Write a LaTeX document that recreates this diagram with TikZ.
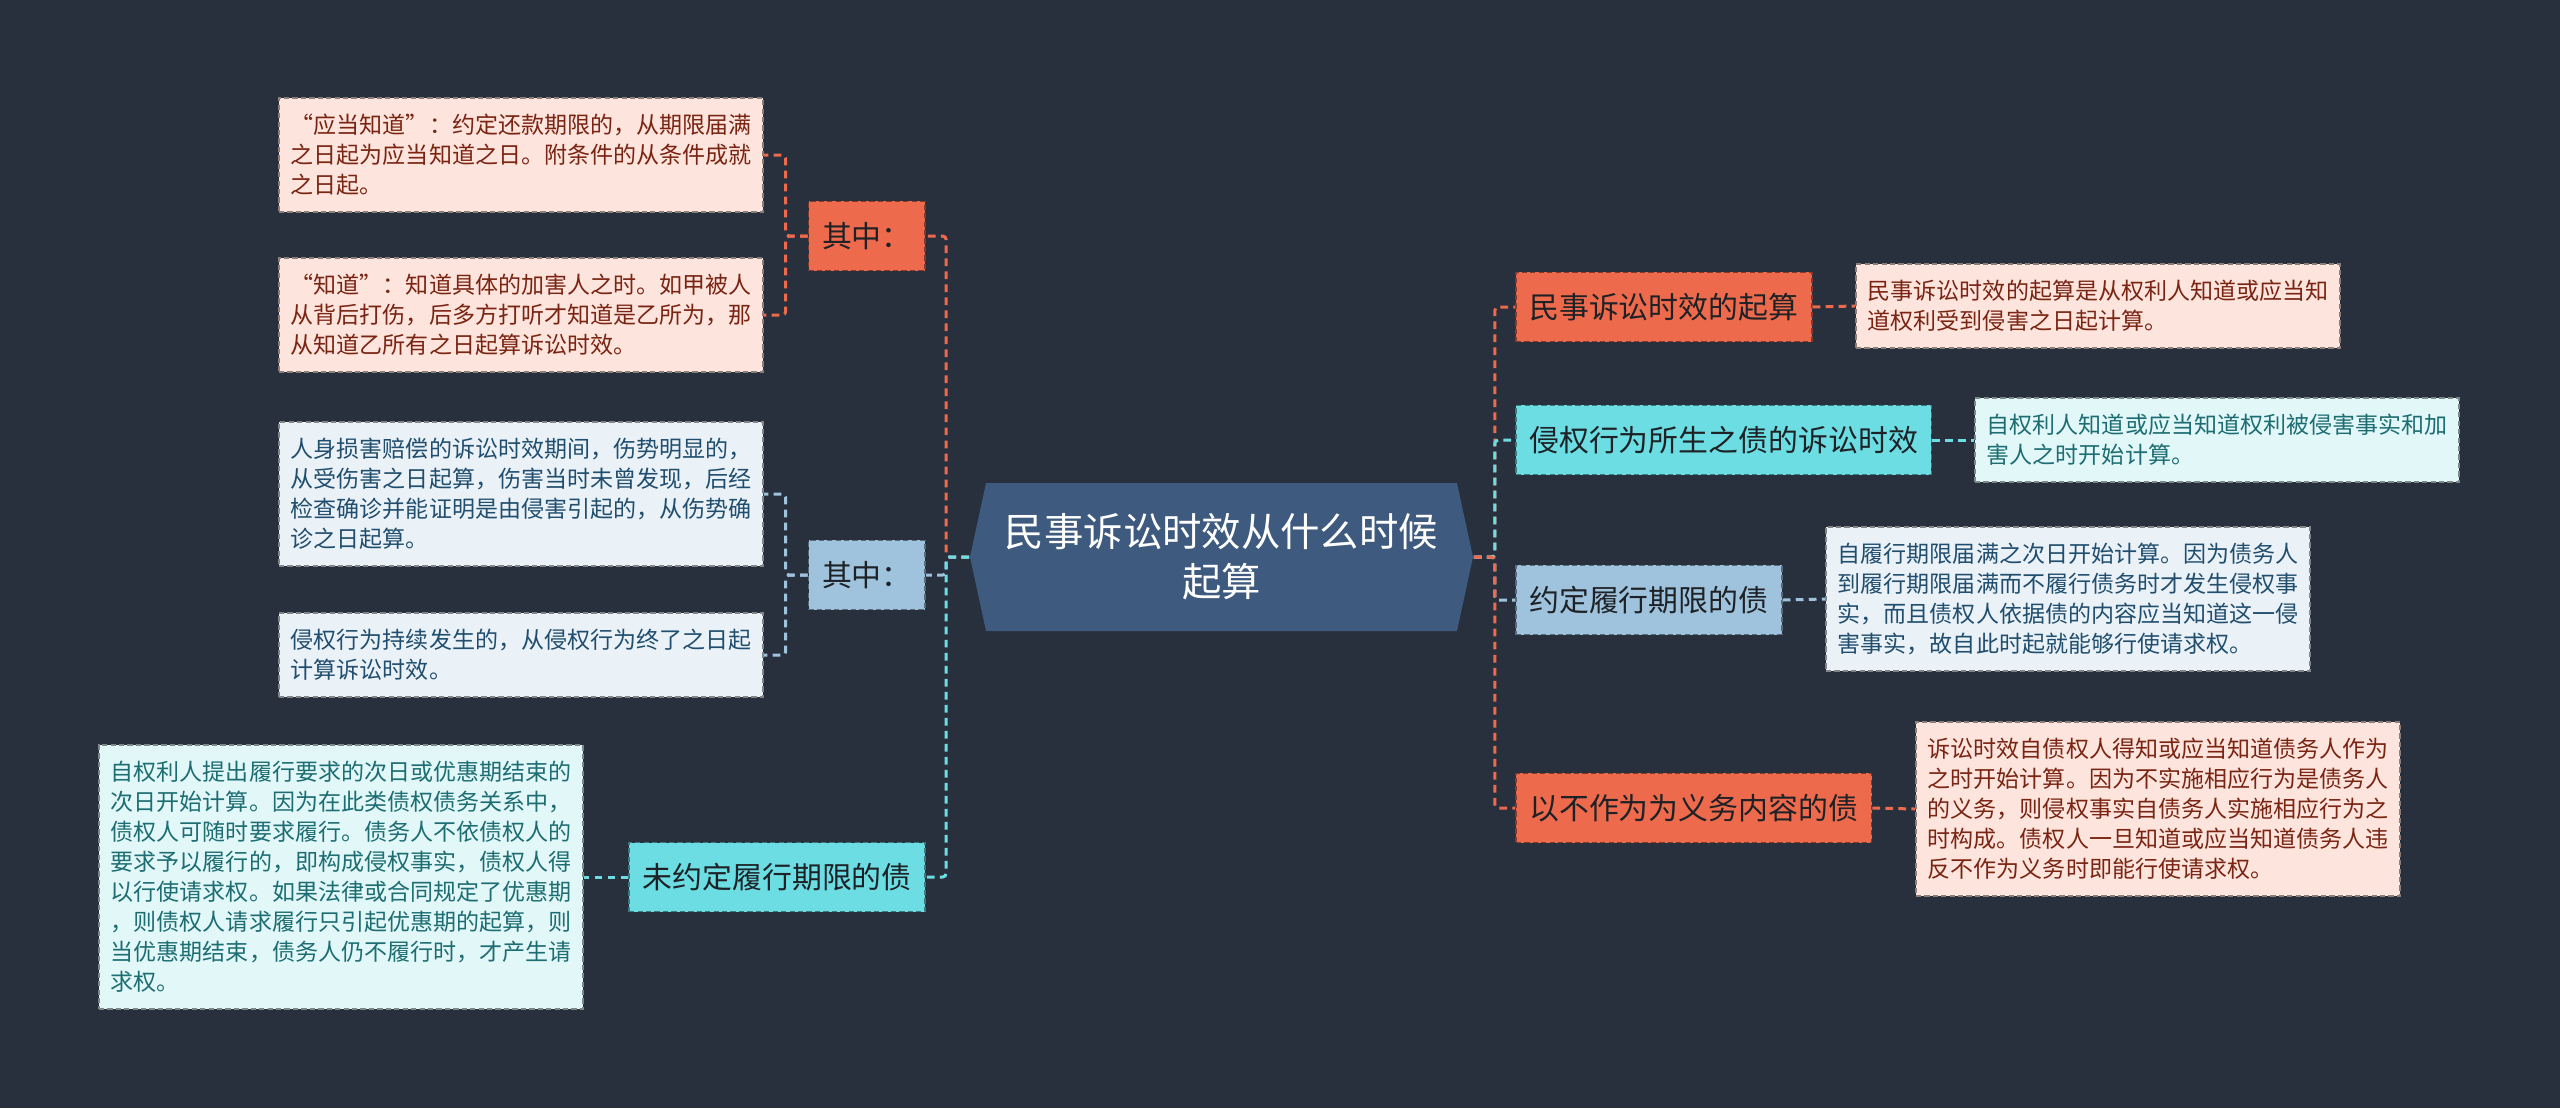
\documentclass[tikz,border=0pt]{standalone}
\usepackage{fontspec}
\setmainfont{Noto Sans CJK SC}
\usepackage{tikz}
\usetikzlibrary{positioning}
\usepackage{xcolor}

\definecolor{bgdark}{HTML}{28303E}
\definecolor{ctrfill}{HTML}{3E5A7E}
\definecolor{orangefill}{HTML}{EE6A4C}
\definecolor{cyanfill}{HTML}{6BDDE3}
\definecolor{bluefill}{HTML}{9FC3DD}
\definecolor{pinkbox}{HTML}{FDE4DC}
\definecolor{cyanbox}{HTML}{E1F7F8}
\definecolor{bluebox}{HTML}{EAF2F8}
\definecolor{pinktext}{HTML}{7A2413}
\definecolor{cyantext}{HTML}{1D6D72}
\definecolor{bluetext}{HTML}{214E6E}
\definecolor{darktext}{HTML}{1E2226}

\begin{document}
\begin{tikzpicture}[x=0.01cm, y=-0.01cm,
    branch/.style={draw=#1!55!black, line width=0.45pt, dash pattern=on 1.5pt off 0.9pt, fill=#1,
        text=darktext, minimum height=0.69cm, inner xsep=0.135cm, inner ysep=0pt,
        font=\fontsize{8.5pt}{10pt}\selectfont},
    detail/.style 2 args={draw=#1!55!black, line width=0.45pt, dash pattern=on 1.5pt off 0.9pt, fill=#1,
        text=#2, text width=4.6cm, align=left, inner xsep=0.12cm, inner ysep=0.16cm,
        font=\fontsize{6.55pt}{8.55pt}\selectfont},
    conn/.style={#1, line width=0.85pt, dash pattern=on 2.2pt off 1.5pt, rounded corners=1pt}]

    % background, fixes the page size
    \fill[bgdark] (0,0) rectangle (2560,1108);

    % Centre topic
    \fill[ctrfill] (970,557) -- (986,483) -- (1457,483) -- (1473,557) -- (1457,631) -- (986,631) -- cycle;
    \node[minimum width=5.03cm, minimum height=1.48cm, align=center, text=white,
        font=\fontsize{11.2pt}{14.2pt}\selectfont] (ctr) at (1221.5,557)
        {民事诉讼时效从什么时候\\起算};

    % Right side: main branches
    \node[branch=orangefill, anchor=west] (qisuan) at (1515,307) {民事诉讼时效的起算};
    \node[branch=cyanfill, anchor=west] (qinquan) at (1515,440) {侵权行为所生之债的诉讼时效};
    \node[branch=bluefill, anchor=west] (youqi) at (1515,600) {约定履行期限的债};
    \node[branch=orangefill, anchor=west] (buzuowei) at (1515,808) {以不作为为义务内容的债};

    % Right side: details
    \node[detail={pinkbox}{pinktext}, anchor=west] (qisuanT) at (1855,306)
        {民事诉讼时效的起算是从权利人知道或应当知\\道权利受到侵害之日起计算。};
    \node[detail={cyanbox}{cyantext}, anchor=west] (qinquanT) at (1974,440)
        {自权利人知道或应当知道权利被侵害事实和加\\害人之时开始计算。};
    \node[detail={bluebox}{bluetext}, anchor=west] (youqiT) at (1825,599)
        {自履行期限届满之次日开始计算。因为债务人\\到履行期限届满而不履行债务时才发生侵权事\\实，而且债权人依据债的内容应当知道这一侵\\害事实，故自此时起就能够行使请求权。};
    \node[detail={pinkbox}{pinktext}, anchor=west] (buzuoweiT) at (1915,809)
        {诉讼时效自债权人得知或应当知道债务人作为\\之时开始计算。因为不实施相应行为是债务人\\的义务，则侵权事实自债务人实施相应行为之\\时构成。债权人一旦知道或应当知道债务人违\\反不作为义务时即能行使请求权。};

    % Left side: main branches
    \node[branch=orangefill, anchor=east] (qizhongA) at (926,236) {其中：};
    \node[branch=bluefill, anchor=east] (qizhongB) at (926,575) {其中：};
    \node[branch=cyanfill, anchor=east] (wuqi) at (926,877) {未约定履行期限的债};

    % Left side: details
    \node[detail={pinkbox}{pinktext}, anchor=west] (yingdang) at (278,155)
        {“应当知道”：约定还款期限的，从期限届满\\之日起为应当知道之日。附条件的从条件成就\\之日起。};
    \node[detail={pinkbox}{pinktext}, anchor=west] (zhidao) at (278,315)
        {“知道”：知道具体的加害人之时。如甲被人\\从背后打伤，后多方打听才知道是乙所为，那\\从知道乙所有之日起算诉讼时效。};
    \node[detail={bluebox}{bluetext}, anchor=west] (renshen) at (278,494)
        {人身损害赔偿的诉讼时效期间，伤势明显的，\\从受伤害之日起算，伤害当时未曾发现，后经\\检查确诊并能证明是由侵害引起的，从伤势确\\诊之日起算。};
    \node[detail={bluebox}{bluetext}, anchor=west] (chixu) at (278,655)
        {侵权行为持续发生的，从侵权行为终了之日起\\计算诉讼时效。};
    \node[detail={cyanbox}{cyantext}, anchor=west] (wuqiT) at (98,877)
        {自权利人提出履行要求的次日或优惠期结束的\\次日开始计算。因为在此类债权债务关系中，\\债权人可随时要求履行。债务人不依债权人的\\要求予以履行的，即构成侵权事实，债权人得\\以行使请求权。如果法律或合同规定了优惠期\\，则债权人请求履行只引起优惠期的起算，则\\当优惠期结束，债务人仍不履行时，才产生请\\求权。};

    % Connectors, right
    \draw[conn=orangefill] (ctr.east) -- ++(21,0) |- (qisuan.west);
    \draw[conn=cyanfill] (ctr.east) -- ++(21,0) |- (qinquan.west);
    \draw[conn=bluefill] (ctr.east) -- ++(21,0) |- (youqi.west);
    \draw[conn=orangefill] (ctr.east) -- ++(21,0) |- (buzuowei.west);
    \draw[conn=orangefill] (qisuan.east) -- (qisuanT.west);
    \draw[conn=cyanfill] (qinquan.east) -- (qinquanT.west);
    \draw[conn=bluefill] (youqi.east) -- (youqiT.west);
    \draw[conn=orangefill] (buzuowei.east) -- (buzuoweiT.west);

    % Connectors, left
    \draw[conn=orangefill] (ctr.west) -- ++(-23,0) |- (qizhongA.east);
    \draw[conn=bluefill] (ctr.west) -- ++(-23,0) |- (qizhongB.east);
    \draw[conn=cyanfill] (ctr.west) -- ++(-23,0) |- (wuqi.east);
    \draw[conn=orangefill] (qizhongA.west) -- ++(-22,0) |- (yingdang.east);
    \draw[conn=orangefill] (qizhongA.west) -- ++(-22,0) |- (zhidao.east);
    \draw[conn=bluefill] (qizhongB.west) -- ++(-22,0) |- (renshen.east);
    \draw[conn=bluefill] (qizhongB.west) -- ++(-22,0) |- (chixu.east);
    \draw[conn=cyanfill] (wuqi.west) -- (wuqiT.east);
\end{tikzpicture}
\end{document}
